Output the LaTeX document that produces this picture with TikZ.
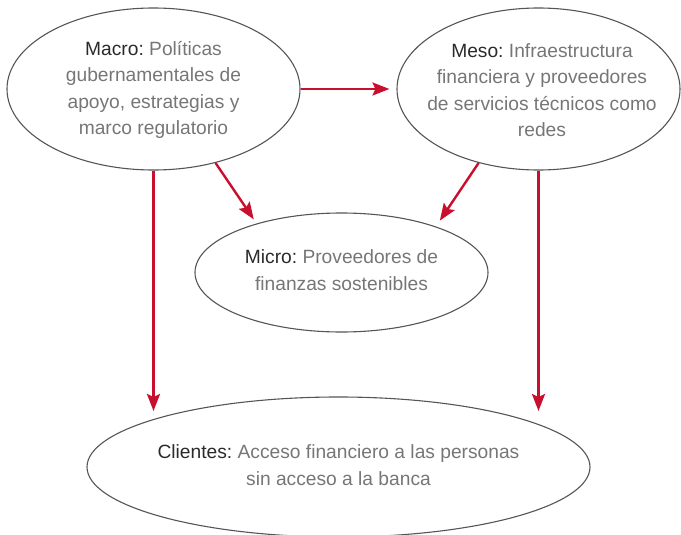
\documentclass[tikz,border=0pt]{standalone}
\usepackage{fontspec}
\setmainfont{Liberation Sans}
\usetikzlibrary{shapes.geometric,arrows.meta}
\definecolor{arrred}{HTML}{C8102E}
\definecolor{txtgray}{HTML}{767676}
\definecolor{labdark}{HTML}{2A2A2A}
\definecolor{edgegray}{HTML}{555555}
\newcommand{\lab}[1]{\textcolor{labdark}{#1}}
\frenchspacing
\tikzset{
  ell/.style={ellipse, draw=edgegray, line width=1.1pt, inner sep=0pt, fill=none},
  txt/.style={align=center, text=txtgray, inner sep=0pt,
    font=\fontsize{19.2}{26.3}\selectfont\frenchspacing},
  arr/.style={draw=arrred, line width=2.4pt,
    -{Stealth[length=17pt,width=13pt,inset=3pt]}}
}
\begin{document}
\begin{tikzpicture}[x=1pt,y=-1pt]
\useasboundingbox (0,0) rectangle (681,535);
% ellipses
\node[ell, minimum width=293pt, minimum height=162pt] (macro) at (153.5,89) {};
\node[ell, minimum width=283pt, minimum height=162pt] (meso) at (538.5,89) {};
\node[ell, minimum width=293pt, minimum height=119pt] (micro) at (341.5,272.5) {};
\node[ell, minimum width=503pt, minimum height=140pt] (clientes) at (338.5,467) {};
% texts
\node[txt] (macrot) at (153.5,90) {\lab{Macro:} Políticas\\gubernamentales de\\apoyo, estrategias y\\marco regulatorio};
\node[txt] (mesot) at (542,90) {\lab{Meso:} Infraestructura\\financiera y proveedores\\de servicios técnicos como\\redes};
\node[txt] (microt) at (341.5,270) {\lab{Micro:} Proveedores de\\finanzas sostenibles};
\node[txt] (clientest) at (338.5,465) {\lab{Clientes:} Acceso financiero a las personas\\sin acceso a la banca};
% stop line for vertical arrows
\coordinate (stop) at (0,411);
% connectors
\draw[arr, shorten >=7pt] (macro.east) -- (macro.east -| meso.west);
\draw[arr, shorten >=5pt] (macro.-50.3) -- (micro.150.5);
\draw[arr, shorten >=7pt] (meso.231.7) -- (micro.26.1);
\draw[arr] (macro.south) -- (macro.south |- stop);
\draw[arr] (meso.south) -- (meso.south |- stop);
\end{tikzpicture}
\end{document}
